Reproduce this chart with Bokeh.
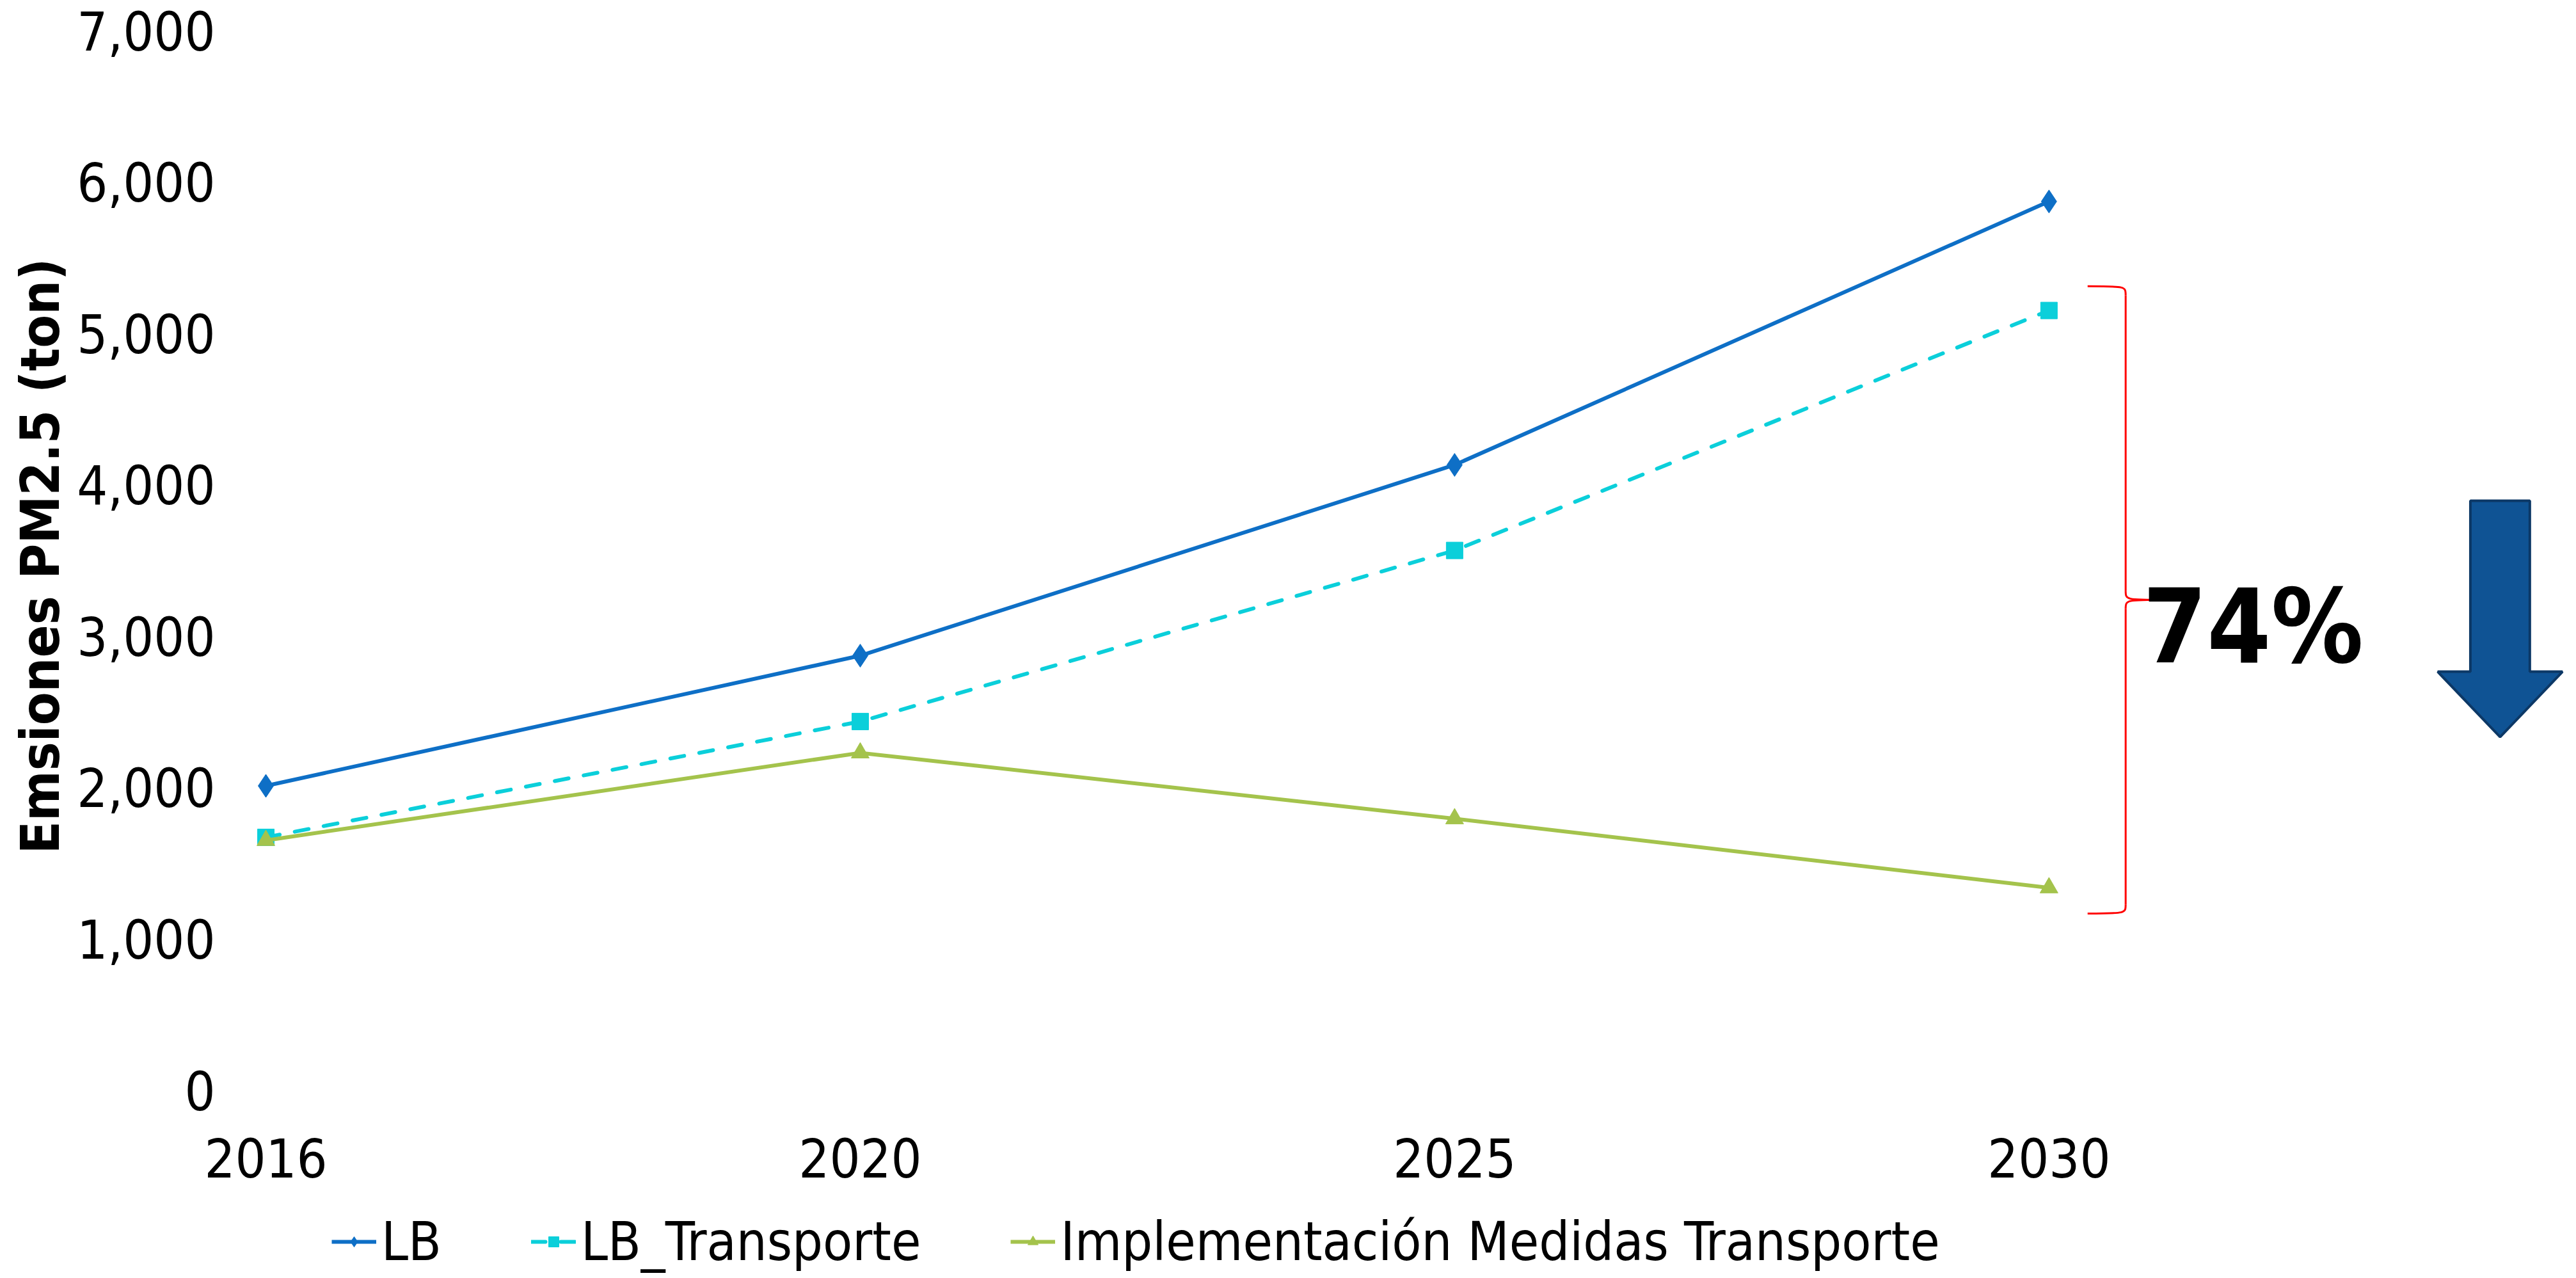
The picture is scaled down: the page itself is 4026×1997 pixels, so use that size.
from bokeh.plotting import figure
from bokeh.layouts import column
from bokeh.models import FixedTicker, NumeralTickFormatter, Legend, Range1d
from bokeh.core.properties import value
from bokeh.embed import file_html
from bokeh.resources import INLINE

# ---- data ----
years = ["2016", "2020", "2025", "2030"]
lb = [2010, 2870, 4130, 5870]
lb_transporte = [1670, 2435, 3565, 5150]
medidas = [1650, 2228, 1793, 1337]
series_names = ["LB", "LB_Transporte", "Implementación Medidas Transporte"]
reduction_label = "74%"

FONT = "DejaVu Sans Condensed"
xs = list(range(len(years)))
c_lb, c_tr, c_me = "#0E6FC6", "#0BCFDA", "#A4C34C"

p = figure(width=4010, height=1871, output_backend="svg",
           toolbar_location=None, x_range=Range1d(-0.0248, 3.87),
           y_range=Range1d(0, 7055), min_border_left=392, min_border_right=0,
           min_border_top=34, min_border_bottom=168)
p.outline_line_color = None
p.xgrid.visible = False
p.ygrid.visible = False

p.xaxis.ticker = FixedTicker(ticks=xs)
p.xaxis.major_label_overrides = {i: y for i, y in enumerate(years)}
p.yaxis.ticker = FixedTicker(ticks=list(range(0, 7001, 1000)))
p.yaxis.formatter = NumeralTickFormatter(format="0,0")
for ax in (p.xaxis, p.yaxis):
    ax.axis_line_color = None
    ax.major_tick_line_color = None
    ax.minor_tick_line_color = None
    ax.major_label_text_font = FONT
    ax.major_label_text_font_size = "84px"
    ax.major_label_text_color = "black"
p.xaxis.major_label_standoff = 68
p.yaxis.major_label_standoff = 50
p.yaxis.axis_label = "Emsiones PM2.5 (ton)"
p.yaxis.axis_label_text_font = FONT
p.yaxis.axis_label_text_font_size = "84px"
p.yaxis.axis_label_text_font_style = "bold"
p.yaxis.axis_label_text_color = "black"
p.yaxis.axis_label_standoff = 5


def draw(fig):
    r1 = fig.line(xs, lb, line_color=c_lb, line_width=6)
    m1 = fig.scatter(xs, lb, marker="diamond", size=36, color=c_lb)
    r2 = fig.line(xs, lb_transporte, line_color=c_tr, line_width=6,
                  line_dash="22 24", line_cap="round")
    m2 = fig.scatter(xs, lb_transporte, marker="square", size=26, color=c_tr)
    r3 = fig.line(xs, medidas, line_color=c_me, line_width=6)
    m3 = fig.scatter(xs, medidas, marker="triangle", size=28, color=c_me)
    return [[r1, m1], [r2, m2], [r3, m3]]


draw(p)

# ---- brace annotation between LB_Transporte and Medidas at 2030 ----
i = len(years) - 1
top = lb_transporte[i] + 160
bot = medidas[i] - 170
mid = (top + bot) / 2
xb, xl, xt = i + 0.129, i + 0.065, i + 0.198
r = 60
red = "#FF0000"
p.bezier(x0=[xl, xb, xt, xb], y0=[top, mid + r, mid, bot + r],
         x1=[xb, xt, xb, xl], y1=[top - r, mid, mid - r, bot],
         cx0=[xb, xb, xb, xb], cy0=[top, mid, mid, bot],
         cx1=[xb, xb, xb, xb], cy1=[top, mid, mid, bot],
         line_color=red, line_width=3)
p.segment(x0=[xb, xb], y0=[top - r, mid - r], x1=[xb, xb], y1=[mid + r, bot + r],
          line_color=red, line_width=3)

p.text(x=[xt - 0.04], y=[mid - 180], text=[reduction_label], text_font=value(FONT),
       text_font_size="160px", text_font_style="bold", text_color="black",
       text_baseline="middle", text_align="left")

# ---- block arrow ----
ax_c, sw, hw = 3.759, 0.05, 0.105
a_top, a_base, a_tip = 3893, 2764, 2333
p.patch(x=[ax_c - sw, ax_c + sw, ax_c + sw, ax_c + hw, ax_c, ax_c - hw, ax_c - sw],
        y=[a_top, a_top, a_base, a_base, a_tip, a_base, a_base],
        fill_color="#0F5394", line_color="#0C3866", line_width=4)

# ---- legend strip (series drawn off-range; only the legend shows) ----
p2 = figure(width=4010, height=118, output_backend="svg", toolbar_location=None,
            x_axis_location=None, y_axis_location=None,
            x_range=Range1d(100, 101), y_range=Range1d(100000, 100001),
            min_border_left=0, min_border_right=0, min_border_top=0,
            min_border_bottom=0)
p2.outline_line_color = None
p2.xgrid.visible = False
p2.ygrid.visible = False
rends = draw(p2)
legend = Legend(items=list(zip(series_names, rends)),
                orientation="horizontal", location=(126, 0))
legend.label_text_font = FONT
legend.label_text_font_size = "84px"
legend.label_text_color = "black"
legend.glyph_width = 70
legend.glyph_height = 40
legend.label_standoff = 8
legend.spacing = 140
legend.border_line_color = None
legend.background_fill_alpha = 0
legend.padding = 0
legend.margin = 0
p2.add_layout(legend)

layout = column(p, p2, spacing=0)
open("out.html", "w").write(file_html(layout, INLINE))
